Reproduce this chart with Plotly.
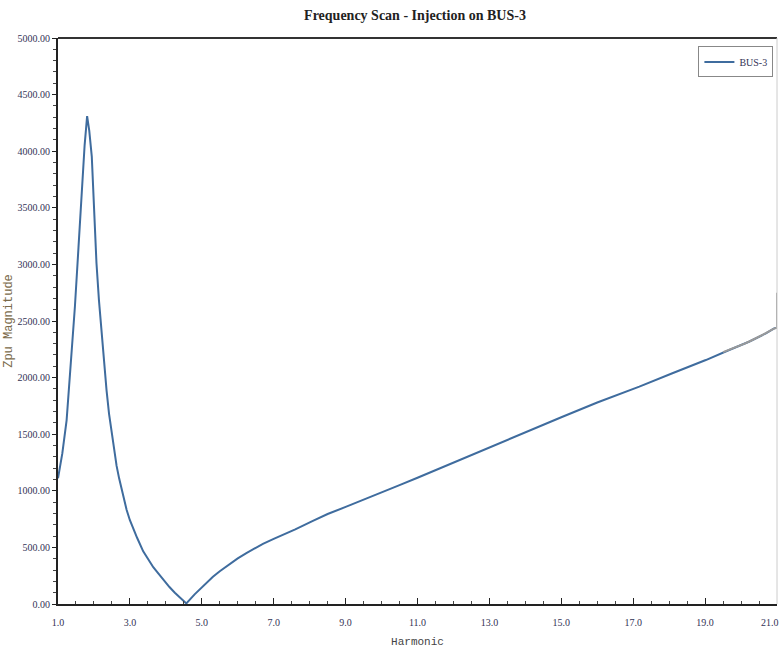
import plotly.graph_objects as go

# Data
harmonic = [1.0, 1.12, 1.24, 1.36, 1.47, 1.57, 1.66, 1.74, 1.81, 1.87, 1.94, 2.0,
            2.07, 2.14, 2.21, 2.28, 2.35, 2.42, 2.49, 2.56, 2.63, 2.7, 2.77, 2.84,
            2.91, 3.0, 3.1, 3.2, 3.37, 3.5, 3.65, 3.75, 3.93, 4.1, 4.25, 4.4, 4.57,
            4.8, 5.05, 5.31, 5.5, 5.75, 6.0, 6.24, 6.5, 6.7, 7.0, 7.17, 7.6, 8.09,
            8.5, 9.02, 9.5, 9.94, 10.5, 11.0, 12.0, 13.0, 14.0, 15.0, 16.0, 17.17,
            18.09, 19.02, 19.67, 20.22, 20.69, 20.92, 21.0]
magnitude = [1110, 1330, 1625, 2110, 2626, 3150, 3657, 4050, 4310, 4180, 3952, 3480,
             3012, 2680, 2394, 2120, 1890, 1680, 1510, 1360, 1220, 1110, 1010, 915,
             830, 740, 655, 585, 465, 395, 325, 285, 212, 150, 100, 52, 5,
             85, 165, 240, 290, 350, 403, 450, 497, 532, 575, 598, 660, 735,
             795, 860, 920, 978, 1050, 1115, 1250, 1385, 1515, 1650, 1780, 1920,
             2038, 2155, 2244, 2317, 2391, 2435, 2440]

# Noisy grey overlay segment near the end of the scan
noise_harm = [19.5, 19.7, 19.9, 20.1, 20.3, 20.5, 20.7, 20.9, 21.0, 21.0]
noise_mag = [2225, 2250, 2270, 2300, 2330, 2360, 2395, 2430, 2440, 2750]

x_ticks = [1, 3, 5, 7, 9, 11, 13, 15, 17, 19, 21]
x_tick_text = ["1.0", "3.0", "5.0", "7.0", "9.0", "11.0", "13.0", "15.0", "17.0", "19.0", "21.0"]
y_ticks = [0, 500, 1000, 1500, 2000, 2500, 3000, 3500, 4000, 4500, 5000]

fig = go.Figure()
fig.add_trace(go.Scatter(x=harmonic, y=magnitude, mode="lines", name="BUS-3",
                         line=dict(color="#3F6C9E", width=2)))
fig.add_trace(go.Scatter(x=noise_harm, y=noise_mag, mode="lines", showlegend=False,
                         hoverinfo="skip", line=dict(color="#9a9a9a", width=2)))

tickfont = dict(family="Liberation Serif", size=10, color="#333355")

# last x tick label is drawn as an annotation so it stays inside the page
shown_text = x_tick_text[:-1] + [""]

fig.update_layout(
    width=783, height=652,
    margin=dict(l=58, r=6, t=38, b=48),
    paper_bgcolor="white", plot_bgcolor="white",
    title=dict(text="<b>Frequency Scan - Injection on BUS-3</b>", x=0.53, xanchor="center",
               y=0.977, yanchor="middle",
               font=dict(family="Liberation Serif", size=14, color="#222222")),
    legend=dict(x=0.995, y=0.985, xanchor="right", yanchor="top",
                bordercolor="#888888", borderwidth=1, bgcolor="white",
                font=dict(family="Liberation Serif", size=10, color="#333355"),
                itemwidth=30),
    xaxis=dict(range=[1, 21], tickvals=x_ticks, ticktext=shown_text, automargin=False,
               showgrid=False, zeroline=False, showline=True, linecolor="#222222",
               linewidth=2, ticks="inside", ticklen=6, tickcolor="#222222",
               tickfont=tickfont, ticklabelstandoff=8,
               minor=dict(dtick=0.5, ticks="inside", ticklen=3, tickcolor="#444444"),
               title=dict(text="Harmonic", standoff=10,
                          font=dict(family="Liberation Mono", size=11, color="#444444"))),
    yaxis=dict(range=[0, 5000], tickvals=y_ticks, tickformat=".2f", automargin=False,
               showgrid=False, zeroline=False, showline=True, linecolor="#222222",
               linewidth=2, ticks="outside", ticklen=4, tickcolor="#222222",
               tickfont=tickfont, ticklabeloverflow="allow",
               minor=dict(dtick=100, ticks="outside", ticklen=3, tickcolor="#444444"),
               title=dict(text="Zpu Magnitude", standoff=2,
                          font=dict(family="Liberation Mono", size=12, color="#7a6a4a"))),
    annotations=[
        dict(text=x_tick_text[-1], x=x_ticks[-1], xref="x", y=0, yref="paper",
             xanchor="right", yanchor="middle", xshift=4, yshift=-18, showarrow=False,
             font=tickfont),
    ],
    shapes=[
        dict(type="line", xref="paper", yref="paper", x0=0, x1=1, y0=1, y1=1,
             line=dict(color="#333333", width=2)),
        dict(type="line", xref="paper", yref="paper", x0=1, x1=1, y0=0, y1=1,
             line=dict(color="#cccccc", width=1)),
    ],
)

fig.write_html("out.html")
